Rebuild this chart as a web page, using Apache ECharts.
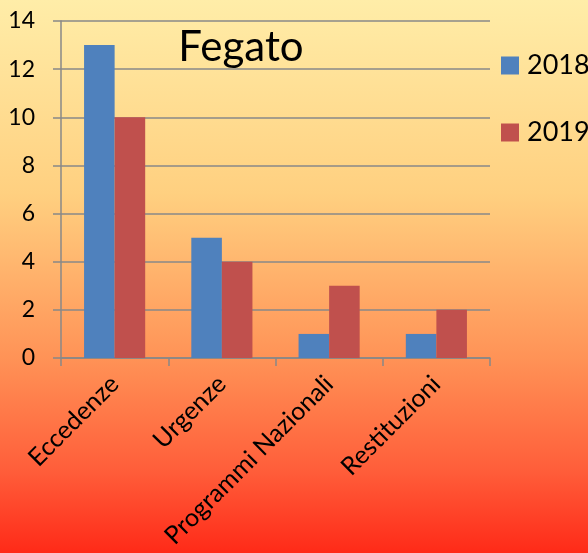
<!DOCTYPE html>
<html>
<head>
<meta charset="utf-8">
<script src="https://cdn.jsdelivr.net/npm/echarts@6/dist/echarts.min.js"></script>
<style>
  html, body { margin: 0; padding: 0; }
  #main { width: 588px; height: 553px; }
</style>
</head>
<body>
<div id="main"></div>
<script>
  // dati del grafico
  var categories = ['Eccedenze', 'Urgenze', 'Programmi Nazionali', 'Restituzioni'];
  var years = ['2018', '2019'];
  var values2018 = [13, 5, 1, 1];
  var values2019 = [10, 4, 3, 2];

  var font = 'Lato, "Open Sans", sans-serif';
  var myChart = echarts.init(document.getElementById('main'));
  var option = {
    backgroundColor: {
      type: 'linear', x: 0, y: 0, x2: 0, y2: 1,
      colorStops: [
        { offset: 0, color: '#FFEDA8' },
        { offset: 0.35, color: '#FFD080' },
        { offset: 0.65, color: '#FF9256' },
        { offset: 0.85, color: '#FF5E3A' },
        { offset: 1, color: '#FF2A18' }
      ]
    },
    title: {
      text: 'Fegato',
      left: 236,
      top: 21,
      textAlign: 'center',
      textStyle: { fontFamily: font, fontSize: 42, fontWeight: 'normal', color: '#000' }
    },
    legend: {
      data: years,
      orient: 'vertical',
      left: 496,
      top: 47,
      itemWidth: 18,
      itemHeight: 18,
      itemGap: 40,
      icon: 'rect',
      textStyle: { fontFamily: font, fontSize: 27, color: '#000', padding: [0, 0, 0, 3] }
    },
    grid: { left: 61, right: 98, top: 21, bottom: 195 },
    xAxis: {
      type: 'category',
      data: categories,
      axisLine: { lineStyle: { color: '#888', width: 1.5 } },
      axisTick: { show: true, length: 8, lineStyle: { color: '#888', width: 1.5 } },
      axisLabel: {
        rotate: 45,
        interval: 0,
        margin: 22,
        fontFamily: font,
        fontSize: 25,
        color: '#000'
      }
    },
    yAxis: {
      type: 'value',
      min: 0,
      max: 14,
      interval: 2,
      axisLine: { show: true, lineStyle: { color: '#888', width: 1.5 } },
      axisTick: { show: true, length: 8, lineStyle: { color: '#888', width: 1.5 } },
      splitLine: { lineStyle: { color: '#888', width: 1.5 } },
      axisLabel: { margin: 26, fontFamily: font, fontSize: 23, color: '#000' }
    },
    series: [
      {
        name: '2018',
        type: 'bar',
        data: values2018,
        barGap: '0%',
        barCategoryGap: '43%',
        itemStyle: { color: '#4F81BD' }
      },
      {
        name: '2019',
        type: 'bar',
        data: values2019,
        itemStyle: { color: '#C0504D' }
      }
    ]
  };
  myChart.setOption(option);
</script>
</body>
</html>
